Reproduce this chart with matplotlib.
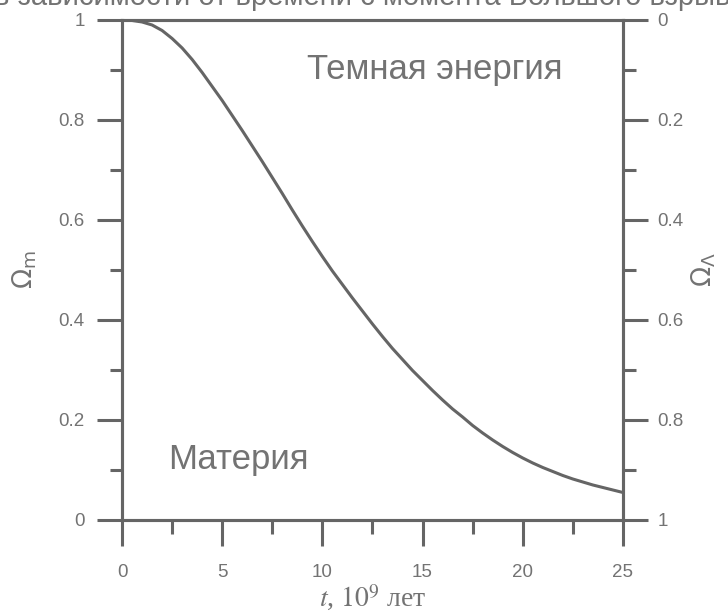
import numpy as np
import matplotlib.pyplot as plt
from matplotlib.ticker import MultipleLocator

# время с момента Большого взрыва, млрд лет, и доля материи
t = [0, 0.5, 1, 1.5, 2, 2.5, 3, 3.5, 4, 4.5, 5, 5.5, 6, 6.5, 7, 7.5, 8, 8.5,
     9, 9.5, 10, 10.5, 11, 11.5, 12, 12.5, 13, 13.5, 14, 14.5, 15, 15.5, 16,
     16.5, 17, 17.5, 18, 18.5, 19, 19.5, 20, 20.5, 21, 21.5, 22, 22.5, 23,
     23.5, 24, 24.5, 25]
omega_m = [1.000, 0.999, 0.996, 0.990, 0.979, 0.963, 0.944, 0.921, 0.895,
           0.867, 0.839, 0.809, 0.779, 0.748, 0.717, 0.685, 0.653, 0.620,
           0.588, 0.557, 0.527, 0.498, 0.471, 0.444, 0.418, 0.392, 0.367,
           0.343, 0.321, 0.299, 0.279, 0.259, 0.240, 0.222, 0.206, 0.189,
           0.174, 0.160, 0.147, 0.135, 0.124, 0.114, 0.105, 0.097, 0.089,
           0.082, 0.076, 0.070, 0.065, 0.060, 0.055]

y_ticks = [0, 0.2, 0.4, 0.6, 0.8, 1.0]
y_labels = ['0', '0.2', '0.4', '0.6', '0.8', '1']
title = 'в зависимости от времени с момента Большого взрыва'

gray = '#656565'
txt = '#737373'

plt.rcParams['font.family'] = ['Liberation Sans', 'DejaVu Sans']
plt.rcParams['mathtext.fontset'] = 'dejavusans'

fig = plt.figure(figsize=(7.28, 6.15), dpi=100)
ax = fig.add_axes([0.1676, 0.1545, 0.688, 0.813])
ax.plot(t, omega_m, color=gray, lw=2.2, solid_capstyle='butt')
ax.set_xlim(0, 25)
ax.set_ylim(0, 1)

for s in ax.spines.values():
    s.set_color(gray)
    s.set_linewidth(2.2)

ax.xaxis.set_major_locator(MultipleLocator(5))
ax.xaxis.set_minor_locator(MultipleLocator(2.5))
ax.set_yticks(y_ticks, y_labels)
ax.yaxis.set_minor_locator(MultipleLocator(0.1))
ax.tick_params(which='major', direction='out', color=gray, width=2.2,
               labelcolor=txt, labelsize=13.5)
ax.tick_params(axis='x', which='major', length=19, pad=13)
ax.tick_params(axis='x', which='minor', direction='out', length=10,
               width=2.2, color=gray)
ax.tick_params(axis='y', which='major', length=18, pad=9)
ax.tick_params(axis='y', which='minor', direction='out', length=9,
               width=2.2, color=gray)

ax.set_ylabel(r'$\Omega_\mathrm{m}$', fontsize=19, color=txt, labelpad=14)
ax.set_xlabel(r'$t$, $10^{9}$ лет', fontsize=20, color=txt, labelpad=1,
              family=['Liberation Serif', 'DejaVu Serif'],
              math_fontfamily='stix')

ax2 = ax.twinx()
ax2.set_ylim(1, 0)
ax2.set_yticks(y_ticks, y_labels)
ax2.yaxis.set_minor_locator(MultipleLocator(0.1))
for s in ax2.spines.values():
    s.set_color(gray)
    s.set_linewidth(2.2)
ax2.tick_params(axis='y', which='major', direction='out', length=18, width=2.2,
                color=gray, labelcolor=txt, labelsize=13.5, pad=7)
ax2.tick_params(axis='y', which='minor', direction='out', length=9, width=2.2,
                color=gray)
ax2.set_ylabel(r'$\Omega_\Lambda$', fontsize=19, color=txt, labelpad=4,
               rotation=90)

ax.text(0.625, 0.90, 'Темная энергия', transform=ax.transAxes, fontsize=25,
        color=txt, ha='center', va='center')
ax.text(0.232, 0.12, 'Материя', transform=ax.transAxes, fontsize=25,
        color=txt, ha='center', va='center')

fig.text(0.508, 0.992, title, fontsize=21, color=txt, ha='center',
         va='baseline')

fig.savefig('out.png', dpi=100)
